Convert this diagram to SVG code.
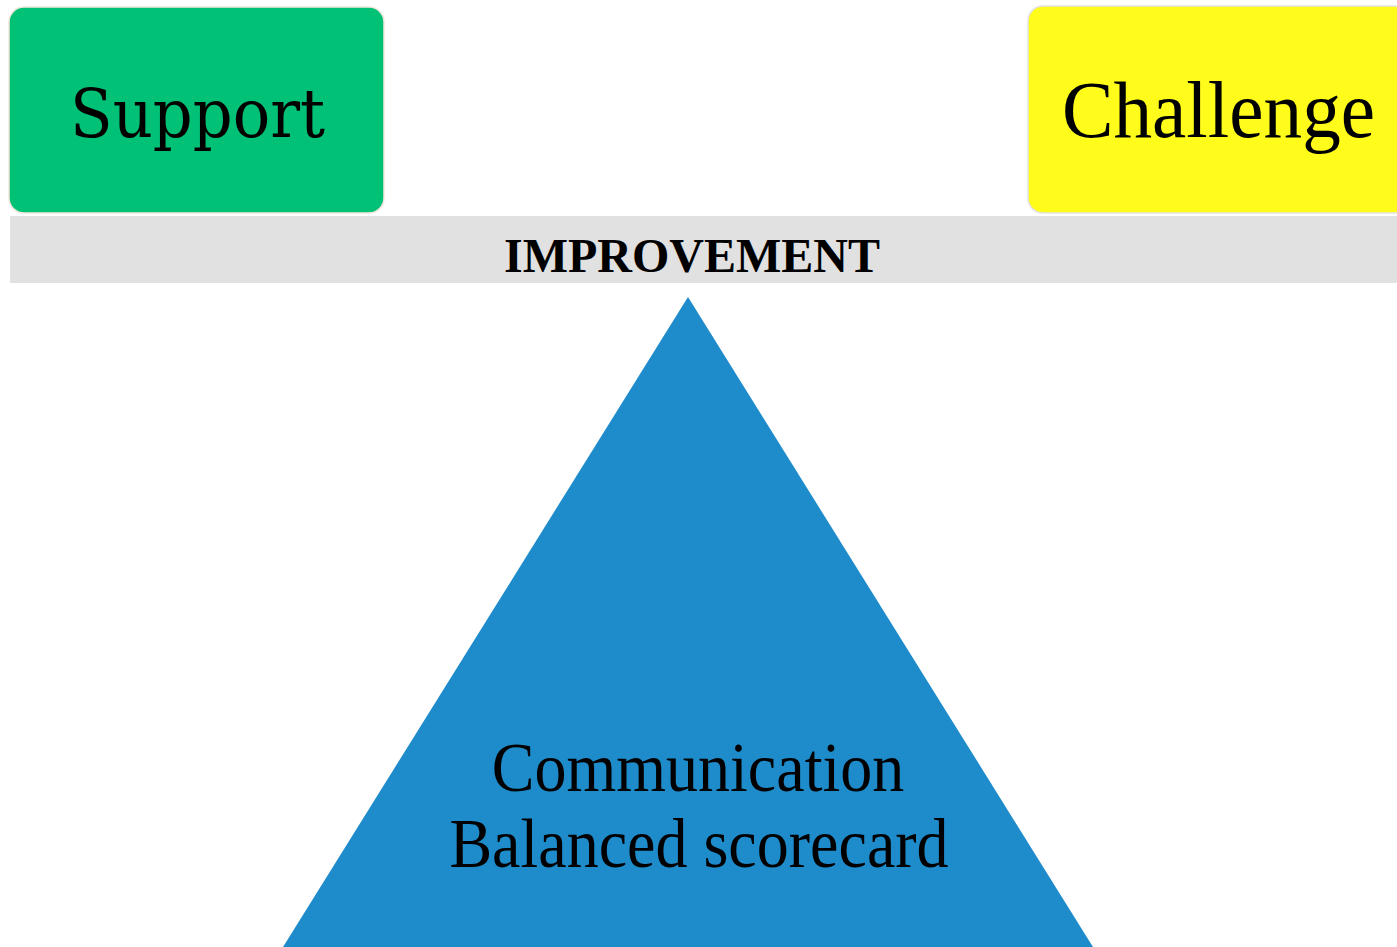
<svg xmlns="http://www.w3.org/2000/svg" width="1397" height="947" viewBox="0 0 1397 947">
<style>
.box{stroke-width:1.5}
.lbl{font-family:"Liberation Serif","Times New Roman",serif;fill:#000}
.geo{font-family:"DejaVu Serif","Liberation Serif",serif;fill:#000}
</style>
<rect x="0" y="0" width="1397" height="947" fill="#ffffff"/>
<g id="support">
<rect class="box" x="9" y="7" width="375" height="206" rx="15" fill="#00C176" stroke="#f3e6dc"/>
<text class="geo" x="70" y="137" font-size="68" textLength="255" lengthAdjust="spacingAndGlyphs">Support</text>
</g>
<g id="challenge">
<rect class="box" x="1028" y="6" width="385" height="207" rx="15" fill="#FFFC1C" stroke="#e2e2e2"/>
<text class="lbl" x="1062" y="137" font-size="80" textLength="313" lengthAdjust="spacingAndGlyphs">Challenge</text>
</g>
<g id="improvement">
<rect x="10" y="216" width="1387" height="67" fill="#E1E1E1"/>
<text class="lbl" x="692" y="272" font-size="48" font-weight="bold" text-anchor="middle">IMPROVEMENT</text>
</g>
<g id="fulcrum">
<polygon points="688,297 1093,947 283,947" fill="#1E8BCB"/>
<text class="lbl" transform="translate(698,791) scale(1,1.1)" font-size="64" text-anchor="middle">Communication</text>
<text class="lbl" transform="translate(699,867) scale(1,1.1)" font-size="64" text-anchor="middle">Balanced scorecard</text>
</g>
<g id="connectors"/>
</svg>
